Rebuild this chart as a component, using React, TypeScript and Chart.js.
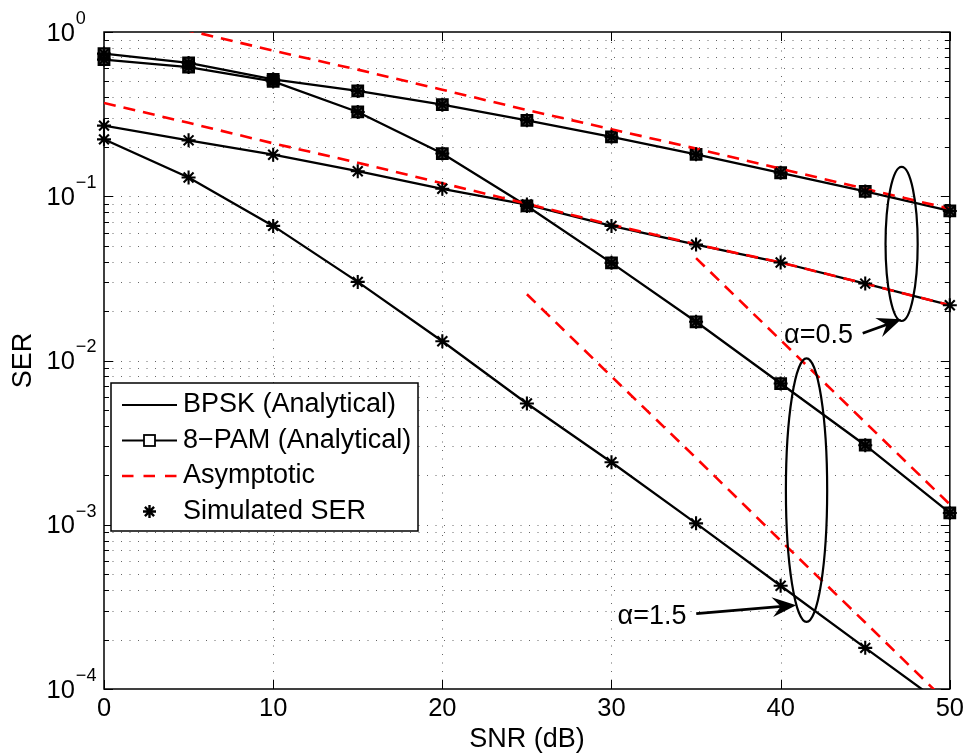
import React, { useEffect, useRef } from 'react';
import { Chart, registerables } from 'chart.js';

Chart.register(...registerables);

// ---------------- data ----------------
const snrDb = [0, 5, 10, 15, 20, 25, 30, 35, 40, 45, 50];
const bpskAlpha05 = [0.269, 0.219, 0.179, 0.142, 0.111, 0.089, 0.066, 0.0508, 0.0395, 0.0294, 0.0217];
const bpskAlpha15 = [0.222, 0.13, 0.066, 0.0301, 0.0131, 0.00547, 0.0024, 0.00102, 0.000425, 0.000178, 0.000075];
const pamAlpha05 = [0.739, 0.648, 0.515, 0.4375, 0.361, 0.29, 0.23, 0.18, 0.139, 0.107, 0.0814];
const pamAlpha15 = [0.679, 0.612, 0.5, 0.326, 0.182, 0.0873, 0.0393, 0.0172, 0.00724, 0.00305, 0.00118];
const asymPamAlpha05 = [1.34, 1.02, 0.77, 0.59, 0.445, 0.335, 0.256, 0.195, 0.147, 0.111, 0.084];
const asymBpskAlpha05 = [0.37, 0.28, 0.21, 0.16, 0.12, 0.09, 0.067, 0.051, 0.0395, 0.0294, 0.0217];
const snrAsymPam15 = [35, 40, 45, 50];
const asymPamAlpha15 = [0.042, 0.0133, 0.0042, 0.00133];
const snrAsymBpsk15 = [25, 30, 35, 40, 45, 50];
const asymBpskAlpha15 = [0.0253, 0.008, 0.00255, 0.0008, 0.000254, 0.00008];

const xTickValues = [0, 10, 20, 30, 40, 50];
const yDecadeExponents = [0, -1, -2, -3, -4];
const legendLabels = ['BPSK (Analytical)', '8\u2212PAM (Analytical)', 'Asymptotic', 'Simulated SER'];
const alphaLabels = ['\u03b1=0.5', '\u03b1=1.5'];
const xTitle = 'SNR (dB)';
const yTitle = 'SER';

// annotation geometry (data coordinates)
const ellipseSpecs = [
  { snr: 47.15, halfWidthDb: 0.95, top: 0.151, bottom: 0.0174 },
  { snr: 41.53, halfWidthDb: 1.22, top: 0.0103, bottom: 0.000256 },
];
const arrowSpecs = [
  { textSnr: 40.2, textSer: 0.0141, fromSnr: 44.85, fromSer: 0.01466, toSnr: 47.13, toSer: 0.0178 },
  { textSnr: 30.36, textSer: 0.000278, fromSnr: 35.01, fromSer: 0.000288, toSnr: 40.92, toSer: 0.000324 },
];

const FONT = "'Liberation Sans', Arial, Helvetica, sans-serif";

function drawStar(ctx: CanvasRenderingContext2D, x: number, y: number, r: number) {
  ctx.beginPath();
  for (let k = 0; k < 4; k++) {
    const a = (k * Math.PI) / 4;
    ctx.moveTo(x - Math.cos(a) * r, y - Math.sin(a) * r);
    ctx.lineTo(x + Math.cos(a) * r, y + Math.sin(a) * r);
  }
  ctx.stroke();
}

const decorPlugin = {
  id: 'matlabDecor',
  beforeDatasetsDraw(chart: any) {
    const { ctx, chartArea: a, scales } = chart;
    const xs = scales.x;
    const ys = scales.y;
    ctx.save();
    // dotted grid
    ctx.strokeStyle = 'rgba(0,0,0,0.6)';
    ctx.lineWidth = 1;
    ctx.setLineDash([1, 7.5]);
    for (const v of xTickValues) {
      if (v <= xs.min || v >= xs.max) continue;
      const px = Math.round(xs.getPixelForValue(v)) + 0.5;
      ctx.beginPath();
      ctx.moveTo(px, a.bottom);
      ctx.lineTo(px, a.top);
      ctx.stroke();
    }
    for (const e of yDecadeExponents) {
      for (let k = 1; k <= 9; k++) {
        const v = k * Math.pow(10, e);
        if (v <= ys.min * 1.0001 || v >= ys.max * 0.9999) continue;
        const py = Math.round(ys.getPixelForValue(v)) + 0.5;
        ctx.beginPath();
        ctx.moveTo(a.left, py);
        ctx.lineTo(a.right, py);
        ctx.stroke();
      }
    }
    ctx.setLineDash([]);
    // ticks
    ctx.strokeStyle = '#000';
    ctx.lineWidth = 1;
    for (const v of xTickValues) {
      const px = Math.round(xs.getPixelForValue(v)) + 0.5;
      ctx.beginPath();
      ctx.moveTo(px, a.bottom);
      ctx.lineTo(px, a.bottom - 9);
      ctx.moveTo(px, a.top);
      ctx.lineTo(px, a.top + 9);
      ctx.stroke();
    }
    for (const e of yDecadeExponents) {
      for (let k = 1; k <= 9; k++) {
        const v = k * Math.pow(10, e);
        if (v < ys.min * 0.9999 || v > ys.max * 1.0001) continue;
        const py = Math.round(ys.getPixelForValue(v)) + 0.5;
        const len = k === 1 ? 9 : 5;
        ctx.beginPath();
        ctx.moveTo(a.left, py);
        ctx.lineTo(a.left + len, py);
        ctx.moveTo(a.right, py);
        ctx.lineTo(a.right - len, py);
        ctx.stroke();
      }
    }
    // box
    ctx.lineWidth = 1.5;
    ctx.strokeRect(a.left, a.top, a.right - a.left, a.bottom - a.top);
    // y tick labels 10^e
    ctx.fillStyle = '#000';
    ctx.textBaseline = 'middle';
    ctx.textAlign = 'left';
    for (const e of yDecadeExponents) {
      const py = ys.getPixelForValue(Math.pow(10, e));
      ctx.font = `25.5px ${FONT}`;
      const base = '10';
      ctx.fillText(base, 46.5, py + 1.5);
      const w = ctx.measureText(base).width;
      ctx.font = `18px ${FONT}`;
      const expText = e === 0 ? '0' : '\u2212' + String(-e);
      ctx.fillText(expText, 46.5 + w + 1, py - 13);
    }
    ctx.restore();
  },
  afterDatasetsDraw(chart: any) {
    const { ctx, scales } = chart;
    const xs = scales.x;
    const ys = scales.y;
    ctx.save();
    ctx.strokeStyle = '#000';
    ctx.fillStyle = '#000';
    ctx.lineWidth = 2.2;
    for (const el of ellipseSpecs) {
      const cx = xs.getPixelForValue(el.snr);
      const rx = xs.getPixelForValue(el.snr + el.halfWidthDb) - cx;
      const yt = ys.getPixelForValue(el.top);
      const yb = ys.getPixelForValue(el.bottom);
      ctx.beginPath();
      ctx.ellipse(cx, (yt + yb) / 2, rx, (yb - yt) / 2, 0, 0, Math.PI * 2);
      ctx.stroke();
    }
    arrowSpecs.forEach((ar, i) => {
      const x0 = xs.getPixelForValue(ar.fromSnr);
      const y0 = ys.getPixelForValue(ar.fromSer);
      const x1 = xs.getPixelForValue(ar.toSnr);
      const y1 = ys.getPixelForValue(ar.toSer);
      const dx = x1 - x0;
      const dy = y1 - y0;
      const L = Math.hypot(dx, dy);
      const ux = dx / L;
      const uy = dy / L;
      const headLen = 24;
      const headHalf = 10;
      const bx = x1 - ux * headLen;
      const by = y1 - uy * headLen;
      ctx.lineWidth = 2.8;
      ctx.beginPath();
      ctx.moveTo(x0, y0);
      ctx.lineTo(x1 - ux * headLen * 0.6, y1 - uy * headLen * 0.6);
      ctx.stroke();
      ctx.beginPath();
      ctx.moveTo(x1, y1);
      ctx.lineTo(bx - uy * headHalf, by + ux * headHalf);
      ctx.lineTo(x1 - ux * headLen * 0.65, y1 - uy * headLen * 0.65);
      ctx.lineTo(bx + uy * headHalf, by - ux * headHalf);
      ctx.closePath();
      ctx.fill();
      ctx.font = `27px ${FONT}`;
      ctx.textBaseline = 'middle';
      ctx.textAlign = 'left';
      ctx.fillText(alphaLabels[i], xs.getPixelForValue(ar.textSnr), ys.getPixelForValue(ar.textSer));
    });
    ctx.restore();
  },
  afterDraw(chart: any) {
    const { ctx } = chart;
    ctx.save();
    // legend box
    const L = 111, T = 383, R = 418, B = 531;
    ctx.fillStyle = '#fff';
    ctx.fillRect(L, T, R - L, B - T);
    ctx.strokeStyle = '#000';
    ctx.lineWidth = 1.5;
    ctx.strokeRect(L, T, R - L, B - T);
    const rows = [405, 440.5, 476, 511.5];
    const sx0 = 122, sx1 = 177, sxm = 149.5;
    // row 1: solid
    ctx.lineWidth = 2.2;
    ctx.beginPath();
    ctx.moveTo(sx0, rows[0]);
    ctx.lineTo(sx1, rows[0]);
    ctx.stroke();
    // row 2: solid + square
    ctx.beginPath();
    ctx.moveTo(sx0, rows[1]);
    ctx.lineTo(sx1, rows[1]);
    ctx.stroke();
    ctx.fillStyle = '#fff';
    ctx.fillRect(sxm - 5.5, rows[1] - 5.5, 11, 11);
    ctx.lineWidth = 1.8;
    ctx.strokeRect(sxm - 5.5, rows[1] - 5.5, 11, 11);
    // row 3: dashed red
    ctx.strokeStyle = '#ff0000';
    ctx.lineWidth = 2.5;
    ctx.setLineDash([11.5, 10]);
    ctx.beginPath();
    ctx.moveTo(sx0, rows[2]);
    ctx.lineTo(sx1, rows[2]);
    ctx.stroke();
    ctx.setLineDash([]);
    // row 4: star
    ctx.strokeStyle = '#000';
    ctx.lineWidth = 2.4;
    drawStar(ctx, sxm, rows[3], 6.5);
    // labels
    ctx.fillStyle = '#000';
    ctx.font = `27px ${FONT}`;
    ctx.textBaseline = 'middle';
    ctx.textAlign = 'left';
    legendLabels.forEach((t, i) => ctx.fillText(t, 183, rows[i]));
    ctx.restore();
  },
};

export default function App() {
  const ref = useRef<HTMLCanvasElement>(null);

  useEffect(() => {
    const canvas = ref.current;
    if (!canvas) return;
    const pts = (xs: number[], ys: number[]) => xs.map((x, i) => ({ x, y: ys[i] }));
    const noClip = { left: 0, right: 0, top: 0, bottom: 0 };

    const solidLine = (ys: number[], extra: any = {}) => ({
      data: pts(snrDb, ys),
      showLine: true,
      borderColor: '#000',
      backgroundColor: '#000',
      borderWidth: 2.3,
      pointRadius: 0,
      tension: 0,
      order: 2,
      clip: noClip,
      ...extra,
    });
    const pamLine = (ys: number[]) =>
      solidLine(ys, {
        pointStyle: 'rect',
        pointRadius: 7.5,
        pointBorderWidth: 2.2,
        pointBorderColor: '#000',
        pointBackgroundColor: 'rgba(0,0,0,0.7)',
        clip: { left: 14, right: 14, top: 14, bottom: 14 },
      });
    const dashed = (xs: number[], ys: number[]) => ({
      data: pts(xs, ys),
      showLine: true,
      borderColor: '#ff0000',
      backgroundColor: '#ff0000',
      borderWidth: 2.6,
      borderDash: [12, 8],
      pointRadius: 0,
      tension: 0,
      order: 1,
      clip: noClip,
    });
    const stars = (ys: number[]) => ({
      data: pts(snrDb, ys),
      showLine: false,
      pointStyle: 'star',
      pointRadius: 7,
      pointBorderWidth: 2.1,
      pointBorderColor: '#000',
      pointBackgroundColor: '#000',
      borderColor: '#000',
      order: 0,
      clip: { left: 14, right: 14, top: 14, bottom: 0 },
    });

    const datasets: any[] = [
      solidLine(bpskAlpha05),
      solidLine(bpskAlpha15),
      pamLine(pamAlpha05),
      pamLine(pamAlpha15),
      dashed(snrDb, asymPamAlpha05),
      dashed(snrDb, asymBpskAlpha05),
      dashed(snrAsymPam15, asymPamAlpha15),
      dashed(snrAsymBpsk15, asymBpskAlpha15),
      stars(bpskAlpha05),
      stars(bpskAlpha15),
      stars(pamAlpha05),
      stars(pamAlpha15),
    ];

    const chart = new Chart(canvas, {
      type: 'scatter',
      data: { datasets },
      options: {
        responsive: false,
        devicePixelRatio: 1,
        animation: false,
        events: [],
        layout: { padding: { left: 0, right: 19, top: 32, bottom: 0 } },
        plugins: {
          legend: { display: false },
          tooltip: { enabled: false },
          title: { display: false },
        },
        scales: {
          x: {
            type: 'linear',
            min: 0,
            max: 50,
            grid: { display: false, drawTicks: false },
            border: { display: false },
            ticks: {
              stepSize: 10,
              autoSkip: false,
              maxRotation: 0,
              padding: 5,
              color: '#000',
              font: { family: FONT, size: 25.5 },
            },
            title: {
              display: true,
              text: xTitle,
              color: '#000',
              font: { family: FONT, size: 27, lineHeight: 1.0 },
              padding: { top: 0, bottom: 1 },
            },
            afterFit: (s: any) => {
              s.height = 65;
            },
          },
          y: {
            type: 'logarithmic',
            min: 1e-4,
            max: 1,
            grid: { display: false, drawTicks: false },
            border: { display: false },
            ticks: { display: false },
            title: {
              display: true,
              text: yTitle,
              color: '#000',
              font: { family: FONT, size: 27, lineHeight: 1.2 },
              padding: { top: 7, bottom: 0 },
            },
            afterFit: (s: any) => {
              s.width = 104;
            },
          },
        },
      } as any,
      plugins: [decorPlugin],
    });
    return () => chart.destroy();
  }, []);

  return (
    <div style={{ position: 'fixed', left: 0, top: 0, width: 969, height: 754, background: '#fff' }}>
      <canvas ref={ref} width={969} height={754} style={{ display: 'block', width: 969, height: 754 }} />
    </div>
  );
}
